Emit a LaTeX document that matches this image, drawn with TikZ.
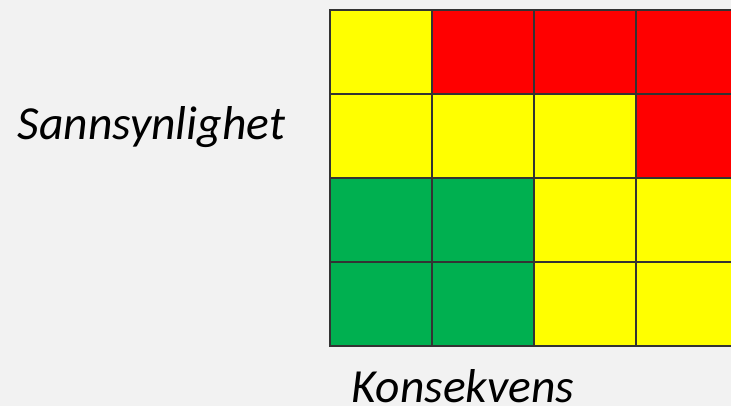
\documentclass[tikz,border=0pt]{standalone}
\usepackage{fontspec}
\setmainfont{Carlito}
\usetikzlibrary{positioning}

\definecolor{bggray}{HTML}{F2F2F2}
\definecolor{riskred}{HTML}{FF0000}
\definecolor{riskyellow}{HTML}{FFFF00}
\definecolor{riskgreen}{HTML}{00B050}
\definecolor{cellline}{HTML}{333333}

\begin{document}
\begin{tikzpicture}[x=1pt, y=-1pt,
			cell/.style={draw=cellline, line width=1.3pt, minimum width=102pt, minimum height=84pt, inner sep=0pt, outer sep=0pt, anchor=north west},
			axis/.style={font=\fontsize{47.5}{52}\selectfont\itshape, anchor=base, inner sep=0pt}]
			\fill[bggray] (0,0) rectangle (731,406);
			\useasboundingbox (0,0) rectangle (731,406);
			% row 1
			\node[cell, fill=riskyellow] (c11) at (330,10) {};
			\node[cell, fill=riskred, right=0pt of c11] (c12) {};
			\node[cell, fill=riskred, right=0pt of c12] (c13) {};
			\node[cell, fill=riskred, right=0pt of c13] (c14) {};
			% row 2
			\node[cell, fill=riskyellow, below=0pt of c11] (c21) {};
			\node[cell, fill=riskyellow, right=0pt of c21] (c22) {};
			\node[cell, fill=riskyellow, right=0pt of c22] (c23) {};
			\node[cell, fill=riskred, right=0pt of c23] (c24) {};
			% row 3
			\node[cell, fill=riskgreen, below=0pt of c21] (c31) {};
			\node[cell, fill=riskgreen, right=0pt of c31] (c32) {};
			\node[cell, fill=riskyellow, right=0pt of c32] (c33) {};
			\node[cell, fill=riskyellow, right=0pt of c33] (c34) {};
			% row 4
			\node[cell, fill=riskgreen, below=0pt of c31] (c41) {};
			\node[cell, fill=riskgreen, right=0pt of c41] (c42) {};
			\node[cell, fill=riskyellow, right=0pt of c42] (c43) {};
			\node[cell, fill=riskyellow, right=0pt of c43] (c44) {};
			% axis labels
			\node[axis] (prob) at (151.5,140) {Sannsynlighet};
			\node[axis] (cons) at (463,402) {Konsekvens};
	\end{tikzpicture}
\end{document}
